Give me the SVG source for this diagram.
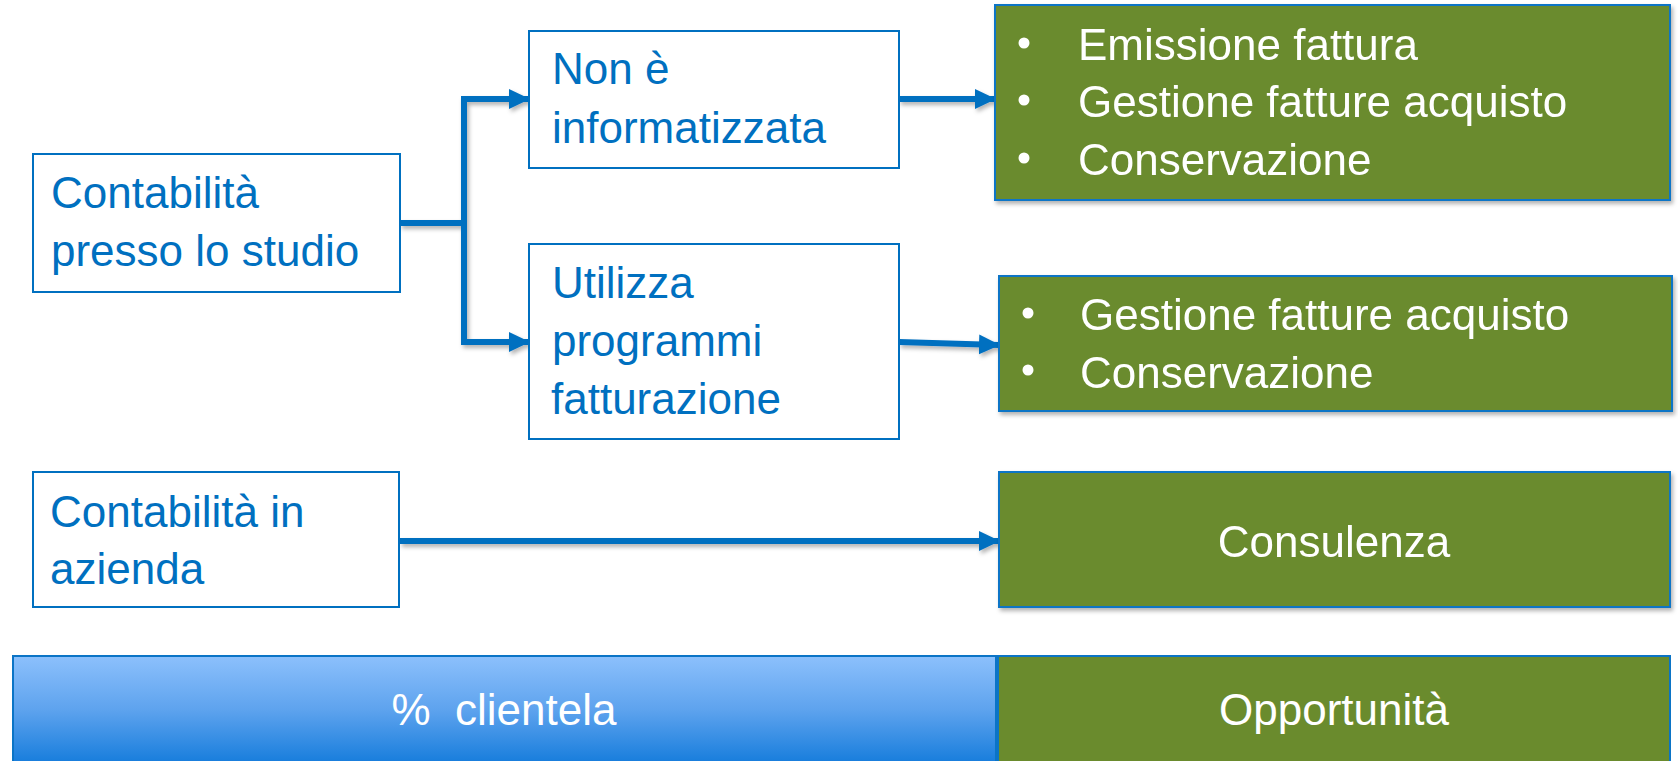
<svg xmlns="http://www.w3.org/2000/svg" width="1678" height="761" viewBox="0 0 1678 761">
<style>
.wbox{fill:#ffffff;stroke:#0070C0;stroke-width:2}
.gbox{fill:#6A8B2D;stroke:#0B74C6;stroke-width:2}
.bt{font-family:"Liberation Sans",Arial,sans-serif;font-size:44px;fill:#0070C0}
.wt{font-family:"Liberation Sans",Arial,sans-serif;font-size:44px;fill:#ffffff}
.conn{fill:none;stroke:#0070C0;stroke-width:6}
.bul{fill:#ffffff}
</style>
<defs>
<marker id="arr" markerUnits="userSpaceOnUse" markerWidth="22" markerHeight="22" refX="20" refY="11" orient="auto" viewBox="0 0 22 22">
<path d="M0,1 L21,11 L0,21 Z" fill="#0070C0"/>
</marker>
<filter id="sh" x="-10%" y="-20%" width="120%" height="160%">
<feDropShadow dx="2" dy="3" stdDeviation="2" flood-color="#000" flood-opacity="0.3"/>
</filter>
<linearGradient id="blue" x1="0" y1="0" x2="0" y2="1">
<stop offset="0" stop-color="#8CC0FC"/>
<stop offset="0.5" stop-color="#5EA3EE"/>
<stop offset="1" stop-color="#177DDC"/>
</linearGradient>
</defs>

<g id="connectors" filter="url(#sh)">
<path class="conn" d="M400,223 H464 V99 H529" marker-end="url(#arr)"/>
<path class="conn" d="M464,223 V342 H529" marker-end="url(#arr)"/>
<path class="conn" d="M899,99 H995" marker-end="url(#arr)"/>
<path class="conn" d="M899,342 L999,345" marker-end="url(#arr)"/>
<path class="conn" d="M400,541 H999" marker-end="url(#arr)"/>
</g>

<g id="studio">
<rect class="wbox" x="33" y="154" width="367" height="138"/>
<text class="bt" x="51" y="208">Contabilità</text>
<text class="bt" x="51" y="266">presso lo studio</text>
</g>

<g id="non-informatizzata">
<rect class="wbox" x="529" y="31" width="370" height="137"/>
<text class="bt" x="552" y="84">Non è</text>
<text class="bt" x="552" y="143">informatizzata</text>
</g>

<g id="utilizza">
<rect class="wbox" x="529" y="244" width="370" height="195"/>
<text class="bt" x="552" y="298">Utilizza</text>
<text class="bt" x="552" y="356">programmi</text>
<text class="bt" x="551" y="414">fatturazione</text>
</g>

<g id="azienda">
<rect class="wbox" x="33" y="472" width="366" height="135"/>
<text class="bt" x="50" y="527">Contabilità in</text>
<text class="bt" x="50" y="584">azienda</text>
</g>

<g id="servizi1" filter="url(#sh)">
<rect class="gbox" x="995" y="5" width="675" height="195"/>
<circle class="bul" cx="1024" cy="43" r="5.5"/>
<circle class="bul" cx="1024" cy="100" r="5.5"/>
<circle class="bul" cx="1024" cy="158" r="5.5"/>
<text class="wt" x="1078" y="60">Emissione fattura</text>
<text class="wt" x="1078" y="117">Gestione fatture acquisto</text>
<text class="wt" x="1078" y="175">Conservazione</text>
</g>

<g id="servizi2" filter="url(#sh)">
<rect class="gbox" x="999" y="276" width="673" height="135"/>
<circle class="bul" cx="1028" cy="313" r="5.5"/>
<circle class="bul" cx="1028" cy="370" r="5.5"/>
<text class="wt" x="1080" y="330">Gestione fatture acquisto</text>
<text class="wt" x="1080" y="388">Conservazione</text>
</g>

<g id="consulenza" filter="url(#sh)">
<rect class="gbox" x="999" y="472" width="671" height="135"/>
<text class="wt" x="1334" y="557" text-anchor="middle">Consulenza</text>
</g>

<g id="clientela">
<rect x="13" y="656" width="983" height="107" fill="url(#blue)" stroke="#0B74C6" stroke-width="2"/>
<text class="wt" x="504" y="725" text-anchor="middle" xml:space="preserve">%  clientela</text>
</g>

<g id="opportunita">
<rect class="gbox" x="998" y="656" width="672" height="107"/>
<text class="wt" x="1334" y="725" text-anchor="middle">Opportunità</text>
</g>
</svg>
